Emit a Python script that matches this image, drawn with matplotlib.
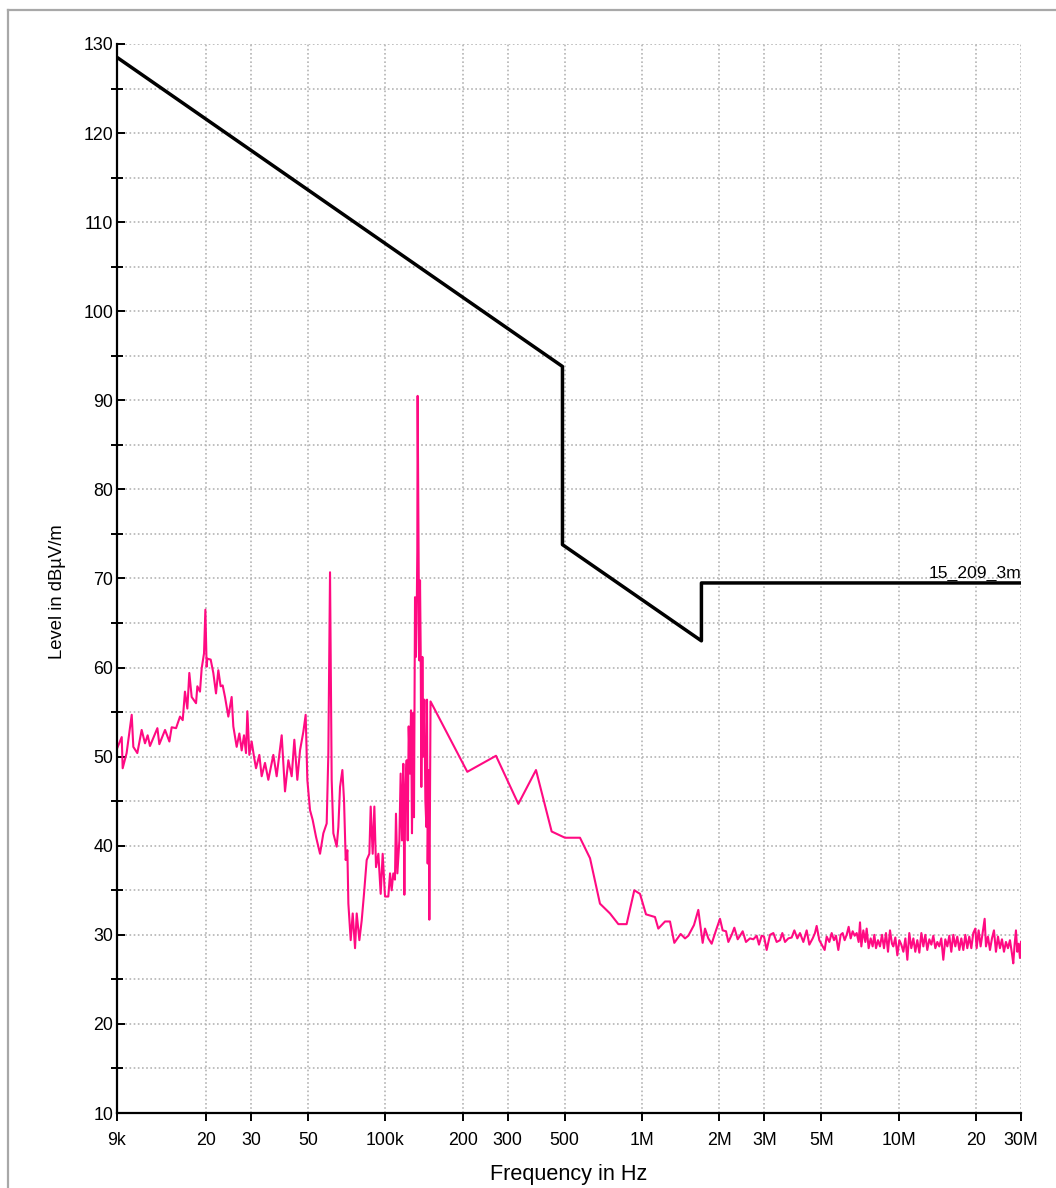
import numpy as np
import matplotlib
matplotlib.use('Agg')
import matplotlib.pyplot as plt
from matplotlib.lines import Line2D
from matplotlib.ticker import NullLocator

plt.rcParams['font.family'] = ['Liberation Sans', 'DejaVu Sans']

# 9 kHz - 150 kHz sweep (kHz, dBuV/m)
lo_freq_khz = [
    9.00, 9.39, 9.47, 9.81, 10.27, 10.42, 10.80, 11.23, 11.57, 11.85,
    12.10, 12.47, 12.93, 13.16, 13.85, 14.40, 14.70, 15.29, 15.84, 16.23,
    16.56, 16.92, 17.22, 17.59, 18.29, 18.51, 18.95, 19.24, 19.65, 19.89,
    20.12, 20.24, 20.86, 21.36, 21.88, 22.34, 22.81, 23.23, 23.72, 24.44,
    25.18, 25.56, 26.34, 26.98, 27.55, 28.13, 28.64, 28.99, 29.51, 30.13,
    30.77, 31.33, 32.28, 32.96, 33.96, 34.99, 36.60, 37.71, 39.45, 40.64,
    41.88, 43.15, 44.19, 45.39, 46.50, 47.91, 48.92, 49.66, 50.86, 52.09,
    53.68, 55.65, 57.33, 59.07, 59.96, 60.87, 61.78, 62.72, 64.62, 65.59,
    66.59, 68.00, 69.02, 70.06, 71.12, 71.76, 73.28, 74.61, 76.19, 77.34,
    79.21, 80.87, 82.57, 84.58, 86.62, 87.67, 89.26, 90.61, 91.97, 93.92,
    95.90, 97.63, 99.70,
    102.7, 104.3, 105.8, 107.4, 109.0, 110.0, 111.4, 113.4, 114.7, 116.1,
    117.5, 118.6, 119.6, 121.1, 122.2, 123.3, 124.7, 125.9, 127.0, 128.2,
    129.3, 130.5, 131.6, 132.4, 133.2, 133.6, 134.9, 135.7, 136.5, 137.3,
    138.1, 139.4, 140.6, 141.9, 143.2, 144.5, 145.3, 146.2, 147.5, 148.4,
]
lo_level = [
    50.9, 52.2, 48.7, 50.4, 54.7, 51.1, 50.4, 53.0, 51.5, 52.4,
    51.2, 52.1, 53.2, 51.4, 53.0, 51.7, 53.3, 53.2, 54.5, 54.1,
    57.3, 55.4, 59.4, 56.7, 56.0, 57.9, 57.3, 59.9, 61.6, 66.5,
    60.1, 61.0, 60.9, 59.4, 57.1, 59.7, 57.9, 58.0, 56.7, 54.5,
    56.7, 53.4, 51.1, 52.6, 50.7, 52.4, 50.4, 55.1, 50.2, 51.7,
    50.0, 48.7, 50.2, 47.8, 49.3, 47.4, 50.2, 47.8, 52.4, 46.1,
    49.6, 47.8, 51.9, 47.4, 50.7, 52.8, 54.7, 47.4, 44.0, 42.9,
    41.0, 39.1, 41.4, 42.5, 50.4, 70.7, 47.4, 41.4, 39.9, 42.1,
    46.6, 48.5, 45.1, 38.4, 39.5, 33.5, 29.4, 32.4, 28.5, 32.4,
    29.4, 31.6, 34.6, 38.4, 39.1, 44.4, 39.1, 44.4, 37.6, 39.1,
    34.6, 39.1, 34.3,
    34.3, 36.9, 35.0, 36.9, 36.2, 43.6, 36.9, 40.6, 48.1, 40.6,
    49.2, 34.5, 46.2, 49.6, 40.6, 53.4, 48.1, 55.2, 41.4, 54.9,
    43.2, 67.9, 61.2, 65.0, 73.0, 90.5, 70.6, 60.8, 69.8, 62.0,
    46.6, 61.2, 50.0, 56.4, 45.1, 42.1, 56.4, 38.0, 48.5, 31.7,
]

# 150 kHz - 30 MHz sweep (kHz, dBuV/m)
hi_freq_khz = [
    150, 208.6, 269.9, 329.8, 386.4, 444.7, 501, 573.5, 627.5, 686.1,
    750.6, 809.1, 871.5, 933.6, 982.4, 1037, 1124, 1158, 1230, 1286,
    1337, 1415, 1472, 1516, 1595, 1658, 1724, 1761, 1814, 1869,
    1938, 2014, 2063, 2126, 2171, 2237, 2291, 2361, 2411, 2469,
    2543, 2636, 2716, 2799, 2858, 2927, 2990, 3062, 3155, 3251,
    3349, 3452, 3524, 3610, 3719, 3832, 3925, 4032, 4129, 4255,
    4384, 4490, 4627, 4723, 4795, 4911, 5061, 5152, 5246, 5373,
    5487, 5602, 5703, 5824, 5948, 6055, 6165, 6277, 6390, 6506,
    6624, 6744, 6866, 6990, 7075, 7160, 7289, 7421, 7510, 7646,
    7785, 7925, 8045, 8166, 8314, 8464, 8618, 8774, 8932, 9095,
    9260, 9427, 9541, 9714, 9890, 10070, 10250, 10440, 10630, 10820,
    11010, 11210, 11420, 11620, 11830, 12050, 12270, 12490, 12710, 12940,
    13180, 13420, 13660, 13910, 14160, 14410, 14670, 14940, 15210, 15490,
    15770, 16050, 16340, 16640, 16940, 17250, 17560, 17880, 18200, 18530,
    18860, 19210, 19550, 19910, 20150, 20510, 20880, 21260, 21650, 21910,
    22300, 22710, 23120, 23540, 23960, 24400, 24840, 25290, 25750, 26210,
    26690, 27170, 27660, 27990, 28330, 28670, 29020, 29370, 29720, 30000,
]
hi_level = [
    56.2, 48.3, 50.1, 44.7, 48.5, 41.6, 40.9, 40.9, 38.6, 33.5,
    32.4, 31.2, 31.2, 35.0, 34.6, 32.3, 32.0, 30.7, 31.5, 31.5,
    29.1, 30.1, 29.6, 29.9, 31.1, 32.8, 29.1, 30.7, 29.6, 29.0,
    30.4, 31.8, 30.5, 30.4, 29.2, 30.0, 30.8, 29.5, 29.9, 30.4,
    29.2, 29.6, 29.5, 29.9, 28.9, 29.9, 29.8, 28.3, 30.0, 30.2,
    29.2, 29.4, 30.2, 29.2, 29.6, 29.7, 30.5, 29.6, 30.2, 29.2,
    30.5, 28.9, 29.6, 30.2, 31.0, 29.4, 28.7, 28.3, 29.8, 29.2,
    30.2, 29.4, 29.9, 28.3, 30.0, 30.2, 29.4, 30.0, 30.9, 29.6,
    30.4, 29.9, 30.2, 29.2, 31.4, 28.7, 30.5, 29.2, 30.7, 28.5,
    29.6, 28.7, 30.0, 28.5, 29.4, 28.7, 30.0, 28.5, 30.2, 28.1,
    30.5, 29.0, 28.7, 29.7, 27.7, 29.4, 28.9, 28.1, 29.6, 27.2,
    30.2, 28.5, 29.6, 28.1, 29.4, 28.0, 30.2, 28.7, 30.0, 28.3,
    29.5, 28.9, 29.9, 28.5, 29.2, 28.7, 29.6, 27.2, 29.5, 28.7,
    29.9, 28.1, 30.0, 28.7, 29.8, 28.3, 29.6, 28.3, 30.0, 28.5,
    29.8, 28.5, 30.2, 30.7, 28.5, 30.5, 28.7, 30.2, 31.8, 28.7,
    29.8, 28.3, 29.6, 30.5, 28.1, 29.8, 28.5, 29.5, 28.1, 29.2,
    28.5, 29.4, 27.9, 26.8, 28.9, 30.5, 28.1, 29.0, 27.4, 29.2,
]

# FCC 15.209 limit at 3 m
limit_freq_hz = [9e3, 490e3, 490e3, 1.705e6, 1.705e6, 30e6]
limit_level = [128.5, 93.8, 73.8, 63.0, 69.5, 69.5]
limit_name = '15_209_3m'

xtick_hz = [9e3, 20e3, 30e3, 50e3, 100e3, 200e3, 300e3, 500e3,
            1e6, 2e6, 3e6, 5e6, 10e6, 20e6, 30e6]
xtick_labels = ['9k', '20', '30', '50', '100k', '200', '300', '500',
                '1M', '2M', '3M', '5M', '10M', '20', '30M']

freq_hz = np.array(lo_freq_khz + hi_freq_khz) * 1e3
level = np.array(lo_level + hi_level)

fig = plt.figure(figsize=(10.56, 11.88), dpi=100)
ax = fig.add_axes([117 / 1056, 75 / 1188, 904 / 1056, 1069 / 1188])

ax.plot(freq_hz, level, color='#ff0a82', lw=1.5, zorder=2)
ax.plot(limit_freq_hz, limit_level, color='black', lw=2.5, zorder=3)
ax.annotate(limit_name, (limit_freq_hz[-1], limit_level[-1]), xytext=(0, 1.5),
            textcoords='offset points', ha='right', va='bottom', fontsize=12.6)

ax.set_xscale('log')
ax.set_xlim(9e3, 30e6)
ax.set_ylim(10, 130)
ax.set_xticks(xtick_hz)
ax.set_xticklabels(xtick_labels)
ax.xaxis.set_minor_locator(NullLocator())
ax.set_yticks(range(10, 131, 10))
ax.set_yticks(range(15, 130, 10), minor=True)

ax.tick_params(axis='x', which='major', direction='out', length=6, width=1.4,
               labelsize=12.8, pad=8)
ax.tick_params(axis='y', which='major', direction='in', length=5.5, width=1.4,
               labelsize=12.8, pad=2.6)
ax.tick_params(axis='y', which='minor', direction='inout', length=8, width=1.4)

ax.grid(True, which='both', color='#b4b4b4', linestyle=(0, (1, 1.5)), lw=1.2)
ax.set_axisbelow(True)

for side in ['top', 'right']:
    ax.spines[side].set_visible(False)
for side in ['left', 'bottom']:
    ax.spines[side].set_linewidth(1.6)

ax.set_xlabel('Frequency in Hz', fontsize=15.6)
ax.xaxis.set_label_coords(0.5, -0.048)
ax.set_ylabel('Level in dBµV/m', fontsize=13.3)
ax.yaxis.set_label_coords(-0.056, 0.488)

# grey outer frame
fig.add_artist(Line2D([8 / 1056, 8 / 1056], [0, 1 - 10 / 1188],
                      color='#a8a8a8', lw=1.6, transform=fig.transFigure))
fig.add_artist(Line2D([8 / 1056, 1], [1 - 10 / 1188, 1 - 10 / 1188],
                      color='#a8a8a8', lw=1.6, transform=fig.transFigure))

fig.savefig('out.png', dpi=100)
